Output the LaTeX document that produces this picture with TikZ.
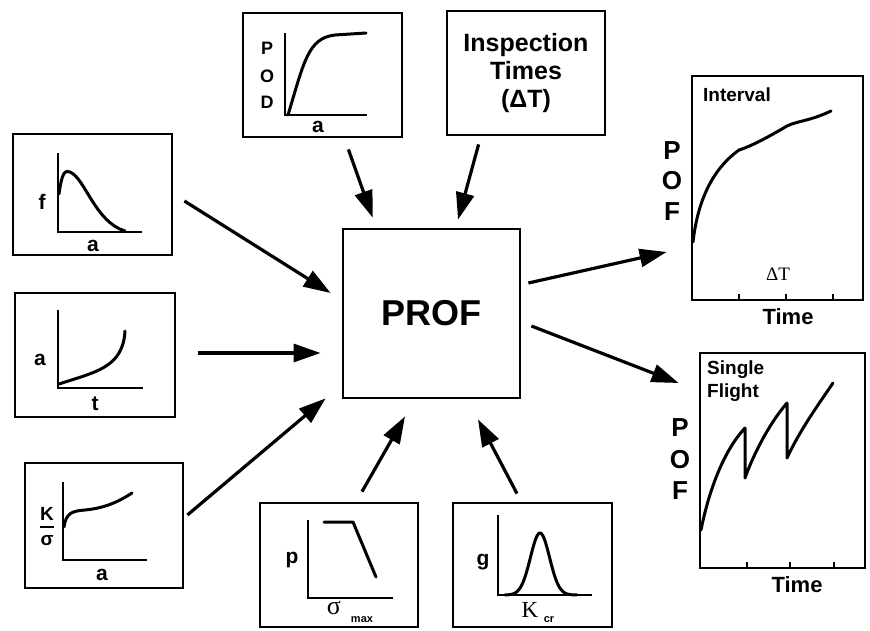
\documentclass[tikz,border=0pt]{standalone}
\usepackage{fontspec}
\setmainfont{Liberation Sans}
\newfontfamily\seriffont{Liberation Serif}
\usetikzlibrary{arrows.meta,calc}
\begin{document}
\begin{tikzpicture}[x=1pt,y=-1pt,
  box/.style={draw, line width=2.8pt, inner sep=0pt},
  flow/.style={line width=3.2pt, -{Triangle[length=27pt,width=18pt]}},
  axis/.style={line width=2.8pt, line cap=butt},
  curve/.style={line width=3pt, line cap=round, line join=round},
  tick/.style={line width=2pt},
  lbl/.style={font=\fontsize{21}{24}\selectfont\bfseries, inner sep=0pt},
  pof/.style={font=\fontsize{26}{30}\selectfont\bfseries, inner sep=0pt},
  head/.style={font=\fontsize{19}{23}\selectfont\bfseries, inner sep=0pt, anchor=west},
  sub/.style={font=\fontsize{11}{13}\selectfont\bfseries, inner sep=0pt},
  greek/.style={font=\fontsize{26}{30}\seriffont, inner sep=0pt}
]
\fill[white] (0,0) rectangle (870,630);
\useasboundingbox (0,0) rectangle (870,630);

% ---------- boxes ----------
\node[box, minimum width=159pt, minimum height=124pt] (pod) at (322.5,75) {};
\node[box, minimum width=158pt, minimum height=124pt, align=center,
      font=\fontsize{25}{28}\selectfont\bfseries] (insp) at (526,73) {Inspection\\Times\\(ΔT)};
\node[box, minimum width=159pt, minimum height=121pt] (fbox) at (92.5,194.5) {};
\node[box, minimum width=160pt, minimum height=124pt] (tbox) at (95,355) {};
\node[box, minimum width=158pt, minimum height=125pt] (kbox) at (104,525.5) {};
\node[box, minimum width=158pt, minimum height=124pt] (pbox) at (339,565) {};
\node[box, minimum width=159pt, minimum height=124pt] (gbox) at (532.5,565) {};
\node[box, minimum width=177pt, minimum height=169pt,
      font=\fontsize{36}{40}\selectfont\bfseries] (prof) at (431.5,313.5) {PROF};
\node[box, minimum width=171pt, minimum height=224pt] (ibox) at (777.5,188) {};
\node[box, minimum width=165pt, minimum height=215pt] (sbox) at (782.5,460.5) {};

% ---------- POD vs a ----------
\draw[axis] (285,33) -- (285,115) -- (367,115);
\draw[curve] (288,115) .. controls (304,62) and (308,38) .. (335,35) -- (366,33);
\node[lbl, font=\fontsize{18}{20}\selectfont\bfseries] (podP) at (267,48) {P};
\node[lbl, font=\fontsize{18}{20}\selectfont\bfseries] (podO) at (267,76) {O};
\node[lbl, font=\fontsize{18}{20}\selectfont\bfseries] (podD) at (267,102) {D};
\node[lbl] (poda) at (318,127) {a};

% ---------- f vs a ----------
\draw[axis] (58,153) -- (58,232) -- (142,232);
\draw[curve] (59,194) .. controls (62,172) and (65,170) .. (70,172)
             .. controls (85,178) and (95,222) .. (125,231);
\node[lbl] (fl) at (42,202) {f};
\node[lbl] (fa) at (93,246) {a};

% ---------- a vs t ----------
\draw[axis] (58,310) -- (58,388) -- (143,388);
\draw[curve] (59,384) .. controls (95,372) and (123,368) .. (125,331);
\node[lbl] (ta) at (40,360) {a};
\node[lbl] (tt) at (95,404) {t};

% ---------- K/sigma vs a ----------
\draw[axis] (63,482) -- (63,560) -- (147,560);
\draw[curve] (64,527) .. controls (66,513) and (72,511) .. (85,510)
             .. controls (105,508) and (118,502) .. (132,493);
\node[lbl, font=\fontsize{19}{22}\selectfont\bfseries] (kK) at (47,514) {K};
\draw[line width=1.4pt] (40,527) -- (54,527);
\node[lbl, font=\fontsize{19}{22}\selectfont\bfseries] (ksig) at (47,541) {σ};
\node[lbl] (ka) at (102,575) {a};

% ---------- p vs sigma_max ----------
\draw[axis] (308,520) -- (308,598) -- (393,598);
\draw[curve] (324,522) -- (353,522) -- (376,577);
\node[lbl] (pp) at (292,560) {p};
\node[greek] (psig) at (334,608) {σ};
\node[sub] (pmax) at (362,620) {max};

% ---------- g vs K_cr ----------
\draw[axis] (498,515) -- (498,595) -- (592,595);
\draw[curve] plot[domain=505:577, samples=70] (\x, {595-62*exp(-((\x-540)/13.5)^2)});
\node[lbl] (gg) at (483,562) {g};
\node[greek, font=\fontsize{23}{26}\seriffont] (gK) at (530,610) {K};
\node[sub] (gcr) at (549,620) {cr};

% ---------- interval POF ----------
\draw[curve] (693,242) .. controls (698,198) and (714,168) .. (739,150)
             .. controls (752,146) and (770,136) .. (787,126)
             .. controls (797,121) and (810,121) .. (831,111);
\foreach \t in {739,786,833} \draw[tick] (\t,300) -- (\t,294);
\node[head] (ihead) at (703,95) {Interval};
\node[font=\fontsize{19}{22}\seriffont, inner sep=0pt] (idt) at (778,274) {ΔT};
\node[lbl, font=\fontsize{22}{26}\selectfont\bfseries] (itime) at (788,317) {Time};
\node[pof] (iP) at (672,151) {P};
\node[pof] (iO) at (672,181) {O};
\node[pof] (iF) at (672,212) {F};

% ---------- single flight POF ----------
\draw[curve] (701,530) .. controls (710,485) and (726,448) .. (745,428) -- (745,478)
             .. controls (755,450) and (772,420) .. (787,403) -- (787,458)
             .. controls (800,430) and (818,405) .. (833,383);
\foreach \t in {747,790,834} \draw[tick] (\t,568) -- (\t,562);
\node[head] (shead1) at (707,370) {Single};
\node[head] (shead2) at (707,393) {Flight};
\node[lbl, font=\fontsize{22}{26}\selectfont\bfseries] (stime) at (797,585) {Time};
\node[pof] (sP) at (680,428) {P};
\node[pof] (sO) at (680,460) {O};
\node[pof] (sF) at (680,491) {F};

% ---------- connectors ----------
\draw[flow] ($(fbox.east)+(11,6.5)$) -- ($(prof.west)+(-11,-20.5)$);
\draw[flow] ($(tbox.east)+(22,-2)$) -- ($(prof.west)+(-21,39.5)$);
\draw[flow] ($(kbox.east)+(3,-10.5)$) -- ($(prof.south west)+(-16,-1)$);
\draw[flow] ($(pod.south east)+(-55,11)$) -- ($(prof.north west)+(31,-10)$);
\draw[flow] ($(insp.south west)+(33,8)$) -- ($(prof.north)+(26.5,-8)$);
\draw[flow] ($(pbox.north)+(23,-10)$) -- ($(prof.south)+(-26.5,17)$);
\draw[flow] ($(gbox.north)+(-15.5,-8)$) -- ($(prof.south)+(46.5,20)$);
\draw[flow] ($(prof.east)+(7,-30.5)$) -- ($(ibox.west)+(-24,64)$);
\draw[flow] ($(prof.east)+(10,12.5)$) -- ($(sbox.west)+(-20,-77.5)$);
\end{tikzpicture}
\end{document}
